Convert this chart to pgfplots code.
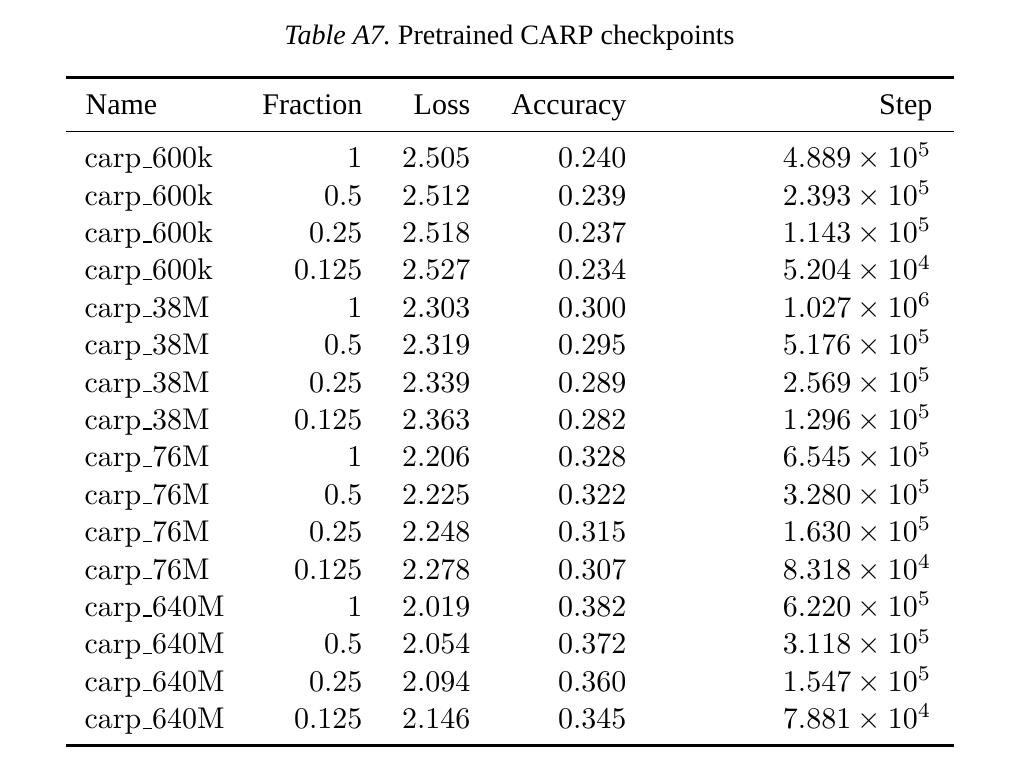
\documentclass[border=0pt]{standalone}
\usepackage{fontspec}
\usepackage{pgfplots}
\usepackage{pgfplotstable}
\pgfplotsset{compat=1.18}
\newfontfamily\tnr{Liberation Serif}
\newcommand{\bodyfont}{\fontsize{10}{12}\selectfont}
\newcommand{\titlefont}{\fontsize{9.35}{11}\selectfont}
\protected\def\us{\leavevmode\kern.06em\vbox{\hrule width.3em}}

\pgfplotstableread[col sep=comma]{
y,name,frac,loss,acc,step
167.7,carp\us 600k,1,2.505,0.240,{$4.889\times10^{5}$}
205.1,carp\us 600k,0.5,2.512,0.239,{$2.393\times10^{5}$}
242.5,carp\us 600k,0.25,2.518,0.237,{$1.143\times10^{5}$}
279.9,carp\us 600k,0.125,2.527,0.234,{$5.204\times10^{4}$}
317.3,carp\us 38M,1,2.303,0.300,{$1.027\times10^{6}$}
354.7,carp\us 38M,0.5,2.319,0.295,{$5.176\times10^{5}$}
392.1,carp\us 38M,0.25,2.339,0.289,{$2.569\times10^{5}$}
429.5,carp\us 38M,0.125,2.363,0.282,{$1.296\times10^{5}$}
466.9,carp\us 76M,1,2.206,0.328,{$6.545\times10^{5}$}
504.3,carp\us 76M,0.5,2.225,0.322,{$3.280\times10^{5}$}
541.7,carp\us 76M,0.25,2.248,0.315,{$1.630\times10^{5}$}
579.1,carp\us 76M,0.125,2.278,0.307,{$8.318\times10^{4}$}
616.5,carp\us 640M,1,2.019,0.382,{$6.220\times10^{5}$}
653.9,carp\us 640M,0.5,2.054,0.372,{$3.118\times10^{5}$}
691.3,carp\us 640M,0.25,2.094,0.360,{$1.547\times10^{5}$}
728.7,carp\us 640M,0.125,2.146,0.345,{$7.881\times10^{4}$}
}\tbl

\pgfplotstableread[col sep=comma]{
x,y,label
363,114,Fraction
471,114,Loss
627,114,Accuracy
933,114,Step
}\hdr

\begin{document}
\begin{tikzpicture}
\begin{axis}[
  name=ax,
  scale only axis,
  width=344pt, height=260.333pt,
  xmin=0, xmax=1032, ymin=0, ymax=781,
  y dir=reverse,
  hide axis,
  clip=false,
  point meta=explicit symbolic,
  nodes near coords={\pgfplotspointmeta},
  every node near coord/.append style={inner sep=0pt, font=\bodyfont, text=black},
]
% rules
\draw[line width=0.8pt] (axis cs:66,77.3) -- (axis cs:954,77.3);
\draw[line width=0.5pt] (axis cs:66,131.3) -- (axis cs:954,131.3);
\draw[line width=0.8pt] (axis cs:66,745.3) -- (axis cs:954,745.3);
% title
\node[anchor=base, inner sep=0pt, font=\tnr\titlefont] at (axis cs:509.5,44.3)
  {\textit{Table A7.}\ Pretrained CARP checkpoints};
% header
\addplot[draw=none, mark=none, every node near coord/.append style={anchor=base west, font=\tnr\bodyfont}]
  coordinates {(85,114)[Name]};
\addplot[draw=none, mark=none, every node near coord/.append style={anchor=base east, font=\tnr\bodyfont}]
  table[x=x, y=y, meta=label] {\hdr};
% body
\addplot[draw=none, mark=none, every node near coord/.append style={anchor=base west}]
  table[x expr=84, y=y, meta=name] {\tbl};
\addplot[draw=none, mark=none, every node near coord/.append style={anchor=base east}]
  table[x expr=363, y=y, meta=frac] {\tbl};
\addplot[draw=none, mark=none, every node near coord/.append style={anchor=base east}]
  table[x expr=471, y=y, meta=loss] {\tbl};
\addplot[draw=none, mark=none, every node near coord/.append style={anchor=base east}]
  table[x expr=627, y=y, meta=acc] {\tbl};
\addplot[draw=none, mark=none, every node near coord/.append style={anchor=base east}]
  table[x expr=932, y=y, meta=step] {\tbl};
\end{axis}
\pgfresetboundingbox
\path[use as bounding box] (ax.south west) rectangle (ax.north east);
\end{tikzpicture}
\end{document}
